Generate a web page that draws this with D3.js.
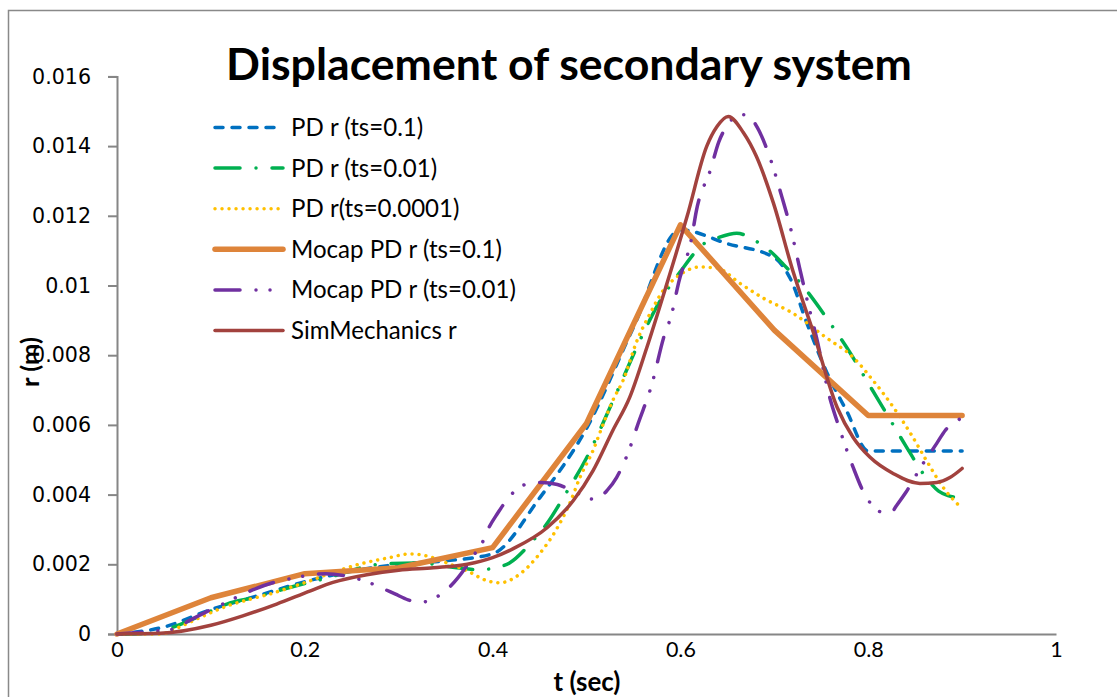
<!DOCTYPE html>
<html><head><meta charset="utf-8">
<script src="https://cdn.jsdelivr.net/npm/d3@7"></script>
<style>body{margin:0;background:#fff}svg{display:block}</style>
</head><body>
<svg id="c" width="1117" height="697"></svg>
<script>
// ---------- data ----------
const xTicks = [0, 0.2, 0.4, 0.6, 0.8, 1];
const yTicks = [0, 0.002, 0.004, 0.006, 0.008, 0.01, 0.012, 0.014, 0.016];

const seriesNames = ["PD r (ts=0.1)", "PD r (ts=0.01)", "PD r(ts=0.0001)", "Mocap PD r (ts=0.1)", "Mocap PD r (ts=0.01)", "SimMechanics r"];

const pd01_t = [0,0.05,0.1,0.15,0.2,0.25,0.3,0.35,0.4,0.45,0.5,0.55,0.6,0.65,0.7,0.717,0.735,0.756,0.777,0.8,0.85,0.9];
const pd01_r = [0,0.0002,0.0007,0.0011,0.0015,0.0018,0.002,0.0021,0.0023,0.0039,0.0059,0.0088,0.0116,0.0112,0.0108,0.0102,0.0089,0.0075,0.0064,0.00525,0.00525,0.00525];

const pd001_t = [0,0.04,0.06,0.1,0.117,0.145,0.2,0.22,0.28,0.32,0.362,0.387,0.4025,0.418,0.44,0.46,0.475,0.5,0.53,0.56,0.575,0.6,0.625,0.64,0.66,0.68,0.695,0.71,0.73,0.76,0.78,0.8,0.82,0.84,0.86,0.875,0.885,0.9];
const pd001_r = [0,0.00003,0.0002,0.00066,0.00086,0.00104,0.00145,0.00158,0.002,0.00204,0.0019,0.00184,0.0019,0.00204,0.00259,0.00325,0.0039,0.00505,0.0068,0.0086,0.0094,0.0104,0.0112,0.01137,0.0115,0.01128,0.011,0.0106,0.01,0.0089,0.0081,0.0072,0.0063,0.0054,0.00455,0.0041,0.00397,0.0039];

const pd00001_t = [0,0.046,0.064,0.085,0.099,0.117,0.142,0.163,0.184,0.205,0.22,0.259,0.29,0.312,0.33,0.351,0.373,0.394,0.408,0.429,0.45,0.469,0.482,0.493,0.507,0.518,0.528,0.539,0.554,0.568,0.582,0.596,0.621,0.639,0.663,0.688,0.72,0.756,0.784,0.805,0.827,0.845,0.862,0.88,0.9];
const pd00001_r = [0,0,0.00017,0.00043,0.0006,0.0008,0.001,0.00115,0.00133,0.00152,0.00167,0.00201,0.00219,0.0023,0.00224,0.00204,0.00181,0.00153,0.00147,0.00172,0.0023,0.00305,0.00374,0.00449,0.00527,0.00604,0.0067,0.00728,0.00843,0.00921,0.00987,0.01024,0.01053,0.0105,0.01007,0.00964,0.0092,0.00849,0.00794,0.00728,0.0065,0.00576,0.00498,0.0042,0.0036];

const mocap01_t = [0,0.1,0.2,0.3,0.4,0.5,0.6,0.7,0.8,0.9];
const mocap01_r = [0,0.00104,0.00173,0.0019,0.00248,0.00604,0.01174,0.00872,0.00627,0.00627];

const mocap001_t = [0,0.046,0.06,0.076,0.1,0.115,0.131,0.145,0.174,0.19,0.206,0.222,0.248,0.266,0.282,0.296,0.31,0.323,0.339,0.352,0.363,0.381,0.389,0.396,0.405,0.422,0.435,0.452,0.469,0.491,0.509,0.522,0.532,0.544,0.555,0.57,0.582,0.591,0.598,0.612,0.617,0.632,0.641,0.649,0.665,0.671,0.682,0.695,0.708,0.717,0.727,0.735,0.745,0.759,0.769,0.784,0.797,0.808,0.816,0.825,0.83,0.84,0.857,0.873,0.882,0.9];
const mocap001_r = [0,0.0001,0.00014,0.00037,0.0007,0.00089,0.0011,0.00127,0.00153,0.00161,0.0017,0.00173,0.00164,0.0015,0.00132,0.00115,0.00098,0.00091,0.00104,0.00129,0.00161,0.0023,0.00262,0.00305,0.00345,0.00406,0.00429,0.00435,0.00429,0.00403,0.00386,0.00412,0.00449,0.00518,0.00604,0.0072,0.00849,0.00921,0.01007,0.01137,0.01214,0.01332,0.01413,0.01456,0.0149,0.0149,0.01453,0.0137,0.01255,0.01168,0.0105,0.00958,0.0085,0.00679,0.00593,0.00478,0.00397,0.0036,0.00348,0.0035,0.00368,0.00406,0.00483,0.00547,0.00584,0.0062];

const sim_t = [0,0.046,0.1,0.134,0.17,0.206,0.23,0.266,0.3,0.337,0.373,0.4,0.422,0.458,0.486,0.507,0.528,0.546,0.564,0.585,0.607,0.628,0.639,0.651,0.667,0.681,0.699,0.72,0.741,0.767,0.784,0.802,0.827,0.855,0.873,0.887,0.9];
const sim_r = [0,0.00002,0.00025,0.00052,0.00086,0.00124,0.00148,0.0017,0.00183,0.0019,0.002,0.00219,0.00245,0.00305,0.00383,0.00469,0.00584,0.00679,0.0082,0.0100,0.01197,0.01399,0.01456,0.01485,0.01439,0.0137,0.01237,0.0104,0.0087,0.0065,0.00564,0.00507,0.0046,0.00432,0.00435,0.00449,0.00475];

const seriesT = [pd01_t, pd001_t, pd00001_t, mocap01_t, mocap001_t, sim_t];
const seriesR = [pd01_r, pd001_r, pd00001_r, mocap01_r, mocap001_r, sim_r];

// ---------- styles ----------
const styles = [
  {color:"#0070C0", width:3.5, dash:"8,9", cap:"round", curve:d3.curveMonotoneX},
  {color:"#00B050", width:3.5, dash:"25,16,0.01,16", cap:"round", curve:d3.curveMonotoneX},
  {color:"#FFC000", width:3.5, dash:"0.01,7", cap:"round", curve:d3.curveMonotoneX},
  {color:"#DE843A", width:5.5, dash:null, cap:"round", curve:d3.curveLinear},
  {color:"#7030A0", width:3.5, dash:"25,16,0.01,14,0.01,16", cap:"round", curve:d3.curveMonotoneX},
  {color:"#A2423E", width:3.5, dash:null, cap:"round", curve:d3.curveMonotoneX}
];

const svg = d3.select("#c");
const x = d3.scaleLinear().domain([0, 1]).range([117, 1056]);
const y = d3.scaleLinear().domain([0, 0.016]).range([634, 76.4]);

function fitText(sel, target) {
  const w = sel.node().getComputedTextLength();
  const fs = parseFloat(sel.attr("font-size"));
  sel.attr("font-size", fs * target / w);
  return fs * target / w;
}

// frame
svg.append("rect").attr("x", 8.5).attr("y", 10.5).attr("width", 1200).attr("height", 800)
  .attr("fill", "none").attr("stroke", "#898989").attr("stroke-width", 1.5);

// y axis
const yAxis = svg.append("g").attr("transform", "translate(117,0)")
  .call(d3.axisLeft(y).tickValues(yTicks).tickSize(9).tickPadding(17)
    .tickFormat(d => d === 0 ? "0" : String(+d.toFixed(3))));
yAxis.select(".domain").attr("stroke", "#868686").attr("stroke-width", 2);
yAxis.selectAll(".tick line").attr("stroke", "#868686").attr("stroke-width", 2);
const yLabels = yAxis.selectAll(".tick text").attr("font-family", "DejaVu Sans").attr("font-size", 20).attr("fill", "#000");
{
  const t = yAxis.selectAll(".tick text").filter(d => d === 0.016);
  const fs = fitText(t, 59);
  yLabels.attr("font-size", fs);
}

// x axis
const xAxis = svg.append("g").attr("transform", "translate(0,634)")
  .call(d3.axisBottom(x).tickValues(xTicks).tickSize(0).tickPadding(8)
    .tickFormat(d => String(d)));
xAxis.select(".domain").attr("stroke", "#868686").attr("stroke-width", 2);
const xLabels = xAxis.selectAll(".tick text").attr("font-family", "Lato").attr("font-size", 21).attr("fill", "#000");
{
  const t = xAxis.selectAll(".tick text").filter(d => d === 0.2);
  const fs = fitText(t, 30);
  xLabels.attr("font-size", fs);
}

// lines
const line = d3.line();
seriesT.forEach((ts, i) => {
  const st = styles[i];
  const pts = ts.map((t, k) => [t, seriesR[i][k]]);
  svg.append("path")
    .attr("d", line.x(d => x(d[0])).y(d => y(d[1])).curve(st.curve)(pts))
    .attr("fill", "none").attr("stroke", st.color).attr("stroke-width", st.width)
    .attr("stroke-linecap", st.cap).attr("stroke-linejoin", "round")
    .attr("stroke-dasharray", st.dash);
});

// title
const title = svg.append("text").attr("x", 569).attr("y", 80).attr("text-anchor", "middle")
  .attr("font-family", "Lato").attr("font-weight", "bold").attr("font-size", 40)
  .text("Displacement of secondary system");
fitText(title, 686);

// axis titles
const xt = svg.append("text").attr("x", 587).attr("y", 691).attr("text-anchor", "middle")
  .attr("font-family", "Lato").attr("font-weight", "bold").attr("font-size", 20).text("t (sec)");
fitText(xt, 67);
const yt = svg.append("text").attr("transform", "translate(39,362) rotate(-90)").attr("text-anchor", "middle")
  .attr("font-family", "Lato").attr("font-weight", "bold").attr("font-size", 20).text("r (m)");
fitText(yt, 50);

// legend
const lg = svg.append("g");
seriesNames.forEach((name, i) => {
  const st = styles[i];
  const ly = 127.5 + i * 40.6;
  lg.append("line").attr("x1", 215).attr("x2", 283).attr("y1", ly).attr("y2", ly)
    .attr("stroke", st.color).attr("stroke-width", st.width).attr("stroke-linecap", st.cap)
    .attr("stroke-dasharray", st.dash);
  lg.append("text").attr("class", "lt").attr("x", 291).attr("y", ly).attr("dy", "0.35em")
    .attr("font-family", "Lato").attr("font-size", 20).text(name);
});
{
  const t = lg.selectAll(".lt").filter((d, i) => i === 4);
  const fs = fitText(t, 225);
  lg.selectAll(".lt").attr("font-size", fs);
}
</script>
</body></html>
